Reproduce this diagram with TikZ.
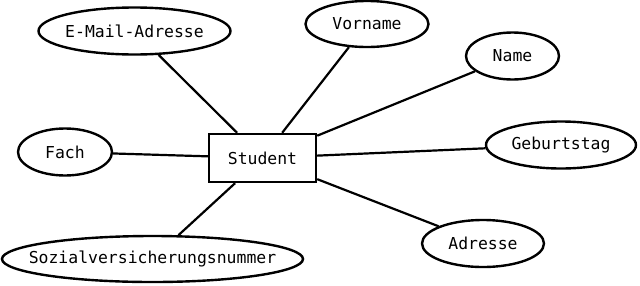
\documentclass[tikz,border=0pt]{standalone}
\usepackage{fontspec}
\setmonofont{DejaVu Sans Mono}
\usepackage{tikz}
\usetikzlibrary{shapes.geometric,positioning}
\tikzset{%
	entity/.style    = {draw, rectangle, line width=2.4bp, minimum width=107bp, minimum height=48bp, font=\ttfamily\fontsize{16.5}{20}\selectfont},
	attribute/.style = {draw, ellipse, line width=2.4bp, inner sep=0pt, font=\ttfamily\fontsize{16.5}{20}\selectfont},
	link/.style      = {line width=2.2bp},
}

\begin{document}
\begin{tikzpicture}[x=1bp,y=-1bp]
	\useasboundingbox (0,0) rectangle (640,285);
	\node[entity] (student) at (262.5,158) {Student};
	\node[attribute,inner xsep=-2bp,minimum width=192bp,minimum height=47bp] (email) at (134.5,31) {E-Mail-Adresse};
	\node[attribute,minimum width=123bp,minimum height=46bp] (vorname) at (367,24) {Vorname};
	\node[attribute,minimum width=93bp,minimum height=47bp] (name) at (512.5,56) {Name};
	\node[attribute,minimum width=150bp,minimum height=47bp] (geburtstag) at (561,145) {Geburtstag};
	\node[attribute,minimum width=122bp,minimum height=47bp] (adresse) at (483,243.5) {Adresse};
	\node[attribute,inner xsep=-18bp,minimum width=301bp,minimum height=46bp] (svnr) at (152.5,259) {Sozialversicherungsnummer};
	\node[attribute,minimum width=94bp,minimum height=47bp] (fach) at (65,152) {Fach};
	\draw[link] (student) -- (email);
	\draw[link] (student) -- (vorname);
	\draw[link] (student) -- (name);
	\draw[link] (student) -- (geburtstag);
	\draw[link] (student) -- (adresse);
	\draw[link] (student) -- (svnr);
	\draw[link] (student) -- (fach);
\end{tikzpicture}
\end{document}
